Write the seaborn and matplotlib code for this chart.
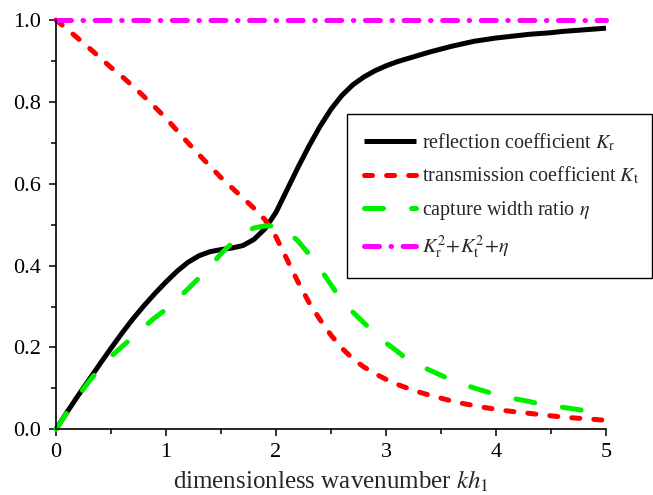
import numpy as np
import pandas as pd
import matplotlib
matplotlib.use("Agg")
import matplotlib.pyplot as plt
import seaborn as sns

# dimensionless wavenumber kh1
kh = [round(0.1 * i, 1) for i in range(51)]

# reflection coefficient Kr
k_r = [0.000, 0.042, 0.082, 0.121, 0.160, 0.198, 0.235, 0.270, 0.302, 0.332,
       0.360, 0.386, 0.408, 0.424, 0.434, 0.439, 0.443, 0.449, 0.464, 0.490,
       0.530, 0.585, 0.640, 0.692, 0.740, 0.782, 0.816, 0.842, 0.861, 0.876,
       0.888, 0.898, 0.906, 0.914, 0.922, 0.929, 0.936, 0.942, 0.948, 0.952,
       0.956, 0.959, 0.962, 0.965, 0.967, 0.969, 0.972, 0.974, 0.976, 0.978,
       0.980]

# transmission coefficient Kt
k_t = [1.000, 0.978, 0.955, 0.932, 0.908, 0.884, 0.862, 0.838, 0.813, 0.787,
       0.760, 0.730, 0.700, 0.671, 0.643, 0.615, 0.590, 0.565, 0.540, 0.512,
       0.470, 0.415, 0.360, 0.310, 0.268, 0.230, 0.198, 0.172, 0.152, 0.136,
       0.122, 0.110, 0.100, 0.091, 0.083, 0.076, 0.069, 0.063, 0.058, 0.053,
       0.049, 0.045, 0.042, 0.039, 0.036, 0.033, 0.030, 0.028, 0.026, 0.024,
       0.022]

# capture width ratio eta
eta = [0.000, 0.041, 0.081, 0.117, 0.150, 0.178, 0.202, 0.226, 0.250, 0.273,
       0.293, 0.318, 0.343, 0.370, 0.398, 0.429, 0.455, 0.479, 0.492, 0.497,
       0.497, 0.485, 0.460, 0.428, 0.393, 0.353, 0.314, 0.286, 0.260, 0.234,
       0.211, 0.191, 0.169, 0.157, 0.144, 0.132, 0.120, 0.110, 0.101, 0.093,
       0.085, 0.079, 0.073, 0.068, 0.062, 0.058, 0.054, 0.050, 0.046, 0.043,
       0.040]

# energy balance Kr^2 + Kt^2 + eta
energy_sum = [1.0] * len(kh)

x_ticks = [0, 1, 2, 3, 4, 5]
y_ticks = [0.0, 0.2, 0.4, 0.6, 0.8, 1.0]

df = pd.DataFrame({"kh": kh, "Kr": k_r, "Kt": k_t, "eta": eta, "sum": energy_sum})

sns.set_theme(style="ticks")
plt.rcParams["font.family"] = ["Liberation Serif", "DejaVu Serif"]
plt.rcParams["mathtext.fontset"] = "stix"
plt.rcParams["lines.scale_dashes"] = False

fig = plt.figure(figsize=(6.53, 4.95), dpi=100)
ax = fig.add_axes([56 / 653, 1 - 429.3 / 495, 550 / 653, 409.3 / 495])

lw = 3.6
series = [
    ("Kr", "black", "-", r"reflection coefficient $K_\mathrm{r}$"),
    ("Kt", "#ff0000", (0, (5.8, 10.1)), r"transmission coefficient $K_\mathrm{t}$"),
    ("eta", "#00ee00", (0, (13.7, 20.2)), r"capture width ratio $\eta$"),
    ("sum", "#ff00ff", (0, (10.8, 8.3, 0.4, 8.3)), r"$K_\mathrm{r}^2\!+\!K_\mathrm{t}^2\!+\!\eta$"),
]
for col, color, ls, label in series:
    sns.lineplot(data=df, x="kh", y=col, ax=ax, color=color, lw=lw,
                 linestyle=ls, label=label, clip_on=False,
                 dash_capstyle="round", solid_capstyle="butt",
                 solid_joinstyle="round")

ax.set_xlim(0, 5)
ax.set_ylim(0, 1)
ax.set_xticks(x_ticks)
ax.set_yticks(y_ticks)
ax.set_xticklabels([str(v) for v in x_ticks])
ax.set_yticklabels([f"{v:.1f}" for v in y_ticks])
ax.set_xticks(np.arange(0.5, 5, 1.0), minor=True)
ax.set_yticks(np.arange(0.1, 1.0, 0.2), minor=True)
ax.tick_params(axis="both", which="major", direction="out", length=5, width=1.1,
               labelsize=16, color="black", labelcolor="black")
ax.tick_params(axis="x", which="major", pad=5)
ax.tick_params(axis="y", which="major", pad=5.5)
ax.tick_params(axis="both", which="minor", direction="out", length=3.5, width=1.1,
               color="black")
for side in ("left", "bottom"):
    ax.spines[side].set_linewidth(1.2)
    ax.spines[side].set_color("black")
sns.despine(ax=ax)

ax.set_xlabel(r"dimensionless wavenumber $kh_\mathrm{1}$", fontsize=18, labelpad=5)
ax.set_ylabel("")

leg = ax.legend(loc="upper left",
                bbox_to_anchor=(347 / 653, 1 - 267 / 495, 305 / 653, 153 / 495),
                bbox_transform=fig.transFigure, mode="expand", frameon=True,
                fancybox=False, edgecolor="black", framealpha=1, fontsize=14.5,
                handlelength=2.6, handletextpad=0.25, labelspacing=0.6,
                borderpad=0.85, borderaxespad=0)
leg.get_frame().set_linewidth(1.0)

fig.savefig("out.png", dpi=100)
